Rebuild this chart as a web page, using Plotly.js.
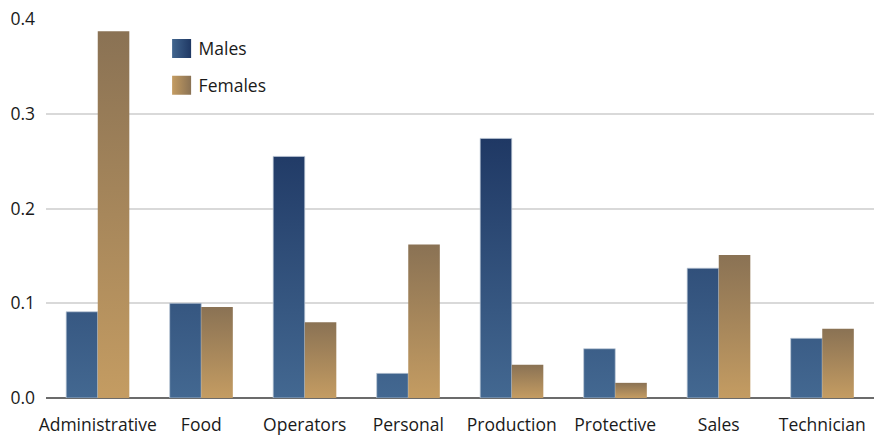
<!DOCTYPE html>
<html>
<head>
<meta charset="utf-8">
<script src="https://cdn.plot.ly/plotly-3.0.1.min.js"></script>
<style>html,body{margin:0;padding:0;background:#fff;}#chart{width:875px;height:436px;}</style>
</head>
<body>
<div id="chart"></div>
<script>
const categories = ["Administrative","Food","Operators","Personal","Production","Protective","Sales","Technician"];
const males   = [0.091, 0.100, 0.255, 0.026, 0.274, 0.052, 0.137, 0.063];
const females = [0.387, 0.096, 0.080, 0.162, 0.035, 0.016, 0.151, 0.073];
const yTicks = [0, 0.1, 0.2, 0.3, 0.4];
const yTickText = ["0.0", "0.1", "0.2", "0.3", "0.4"];

const FONT = "Open Sans, Noto Sans, sans-serif";

const traces = [
  {type:"bar", name:"Males", x:categories, y:males, legendgroup:"m",
   marker:{color:"#34557f", line:{color:"rgba(190,200,215,0.9)", width:0.8}}, hoverinfo:"none"},
  {type:"bar", name:"Females", x:categories, y:females, legendgroup:"f",
   marker:{color:"#a6865e", line:{width:0}}, hoverinfo:"none"}
];

const layout = {
  width:875, height:436,
  margin:{l:46, r:1, t:19, b:38},
  paper_bgcolor:"#fff", plot_bgcolor:"#fff",
  barmode:"group", bargap:0.39, bargroupgap:0,
  font:{family:FONT, size:17, color:"#1a1a1a"},
  xaxis:{type:"category", showgrid:false, zeroline:false, showline:false,
         ticks:"", ticklabelstandoff:14, tickfont:{size:17.5, family:FONT, color:"#1a1a1a"}},
  yaxis:{range:[0,0.4], tickvals:yTicks, ticktext:yTickText, showgrid:true,
         gridcolor:"#d9d9d9", gridwidth:2, zeroline:true, zerolinecolor:"#6b6b6b",
         zerolinewidth:1.5, showline:false, ticks:"", ticklabelstandoff:10,
         tickfont:{size:17.5, family:FONT, color:"#1a1a1a"}},
  showlegend:true,
  legend:{x:0.136, y:0.969, xanchor:"left", yanchor:"top", bgcolor:"rgba(0,0,0,0)",
          traceorder:"grouped", tracegroupgap:11,
          font:{size:17.5, family:FONT, color:"#1a1a1a"}, itemwidth:30}
};

function addGradients(gd){
  const svg = gd.querySelector("svg.main-svg");
  const ns = "http://www.w3.org/2000/svg";
  let defs = svg.querySelector("defs");
  const ya = gd._fullLayout.yaxis;
  const yTop = ya.l2p(Math.max.apply(null, males));
  const yBot = ya.l2p(0);
  function grad(id, c1, c2, attrs){
    let g = svg.querySelector("#"+id);
    if(g) g.remove();
    g = document.createElementNS(ns, "linearGradient");
    g.setAttribute("id", id);
    for(const k in attrs) g.setAttribute(k, attrs[k]);
    [[0,c1],[1,c2]].forEach(([o,c])=>{
      const s = document.createElementNS(ns,"stop");
      s.setAttribute("offset", o); s.setAttribute("stop-color", c);
      g.appendChild(s);
    });
    defs.appendChild(g);
  }
  grad("gM", "#1f3864", "#436891", {gradientUnits:"userSpaceOnUse", x1:0, x2:0, y1:yTop, y2:yBot});
  grad("gF", "#8a7254", "#c49c62", {x1:0, x2:0, y1:0, y2:1});
  grad("lM", "#41658e", "#1f3864", {x1:0, x2:1, y1:0, y2:0});
  grad("lF", "#c49c62", "#8a7254", {x1:0, x2:1, y1:0, y2:0});
  const barGroups = gd.querySelectorAll(".barlayer .trace.bars");
  barGroups.forEach((tg, i)=>{
    tg.querySelectorAll(".point path").forEach(p=>{ p.style.fill = i===0 ? "url(#gM)" : "url(#gF)"; });
  });
  const legItems = gd.querySelectorAll(".legend .traces");
  legItems.forEach((li, i)=>{
    li.querySelectorAll(".legendpoints path").forEach(p=>{
      p.style.fill = i===0 ? "url(#lM)" : "url(#lF)";
      p.style.stroke = "none";
      p.setAttribute("d","M-9.5,9.5H9.5V-9.5H-9.5Z");
      p.setAttribute("transform","translate(23,0)");
    });
  });
}

Plotly.newPlot("chart", traces, layout, {staticPlot:true, displayModeBar:false}).then(gd=>{
  addGradients(gd);
  gd.on("plotly_afterplot", ()=>addGradients(gd));
});
</script>
</body>
</html>
